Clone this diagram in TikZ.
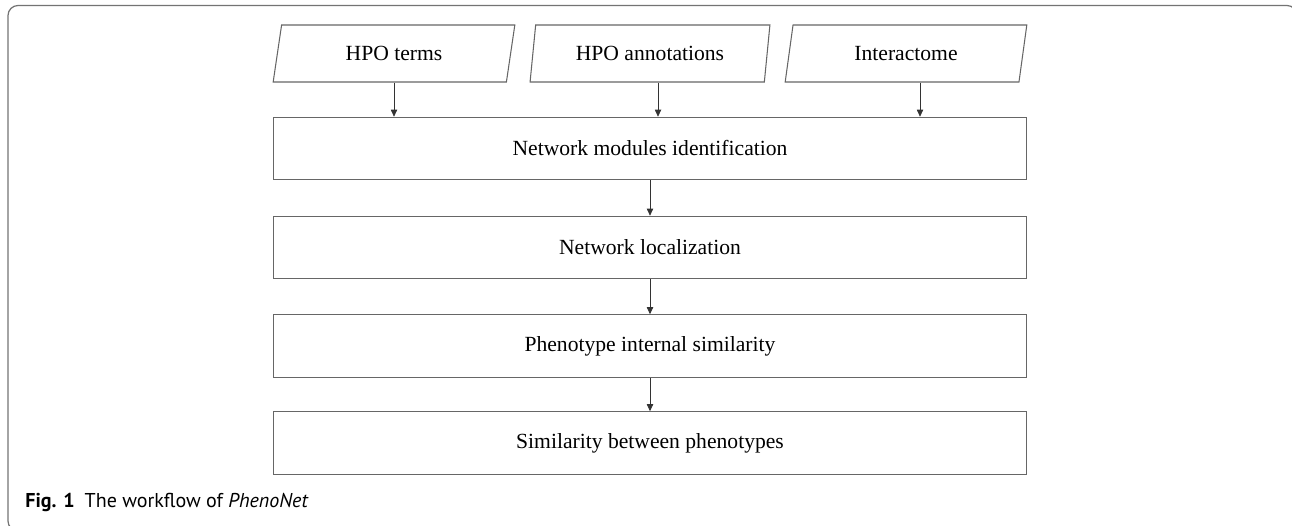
\documentclass[tikz,border=0pt]{standalone}
\usepackage{fontspec}
\setmainfont{Liberation Serif}
\newfontfamily\capfont{PT Sans}
\usetikzlibrary{shapes.geometric,arrows.meta}
\begin{document}
\begin{tikzpicture}[x=0.02cm,y=-0.02cm,
    input/.style={draw=black!60,line width=0.6pt,trapezium,
      trapezium left angle=76,trapezium right angle=104,
      trapezium stretches=true,minimum width=4.84cm,minimum height=1.14cm,
      inner sep=0pt,font=\fontsize{12.3}{14}\selectfont},
    stage/.style={draw=black!60,line width=0.6pt,rectangle,
      minimum width=15.08cm,minimum height=1.25cm,
      inner sep=0pt,font=\fontsize{12.3}{14}\selectfont},
    flow/.style={draw=black!80,line width=0.4pt,
      -{Triangle[length=4pt,width=3.6pt]}}]
      \useasboundingbox (0,0) rectangle (1292,526);
      % frame
      \draw[black!55,line width=0.7pt,rounded corners=0.2cm]
        (8,5.5) rectangle (1297,531);
      % inputs and stages
      \draw
        (394,53.5) node[input] (terms){HPO terms}
        (650,53.5) node[input] (annot){HPO annotations}
        (906,53.5) node[input] (inter){Interactome}
        (650,148.5) node[stage] (modules){Network modules identification}
        (650,247.5) node[stage] (local){Network localization}
        (650,346) node[stage] (internal){Phenotype internal similarity}
        (650,443) node[stage] (between){Similarity between phenotypes};
      \node[anchor=base west,inner sep=0pt,font=\capfont\fontsize{11.4}{13}\selectfont]
        (caption) at (25,508) {\textbf{Fig. 1}\hspace{0.5em}The workflow of \textit{PhenoNet}};
      \begin{scope}[flow]
        \draw (terms.south) to (terms.south |- modules.north);
        \draw ([xshift=0.16cm]annot.south) to ([xshift=0.16cm]annot.south |- modules.north);
        \draw ([xshift=0.28cm]inter.south) to ([xshift=0.28cm]inter.south |- modules.north);
        \draw (modules) to (local);
        \draw (local) to (internal);
        \draw (internal) to (between);
      \end{scope}
    \end{tikzpicture}
\end{document}
